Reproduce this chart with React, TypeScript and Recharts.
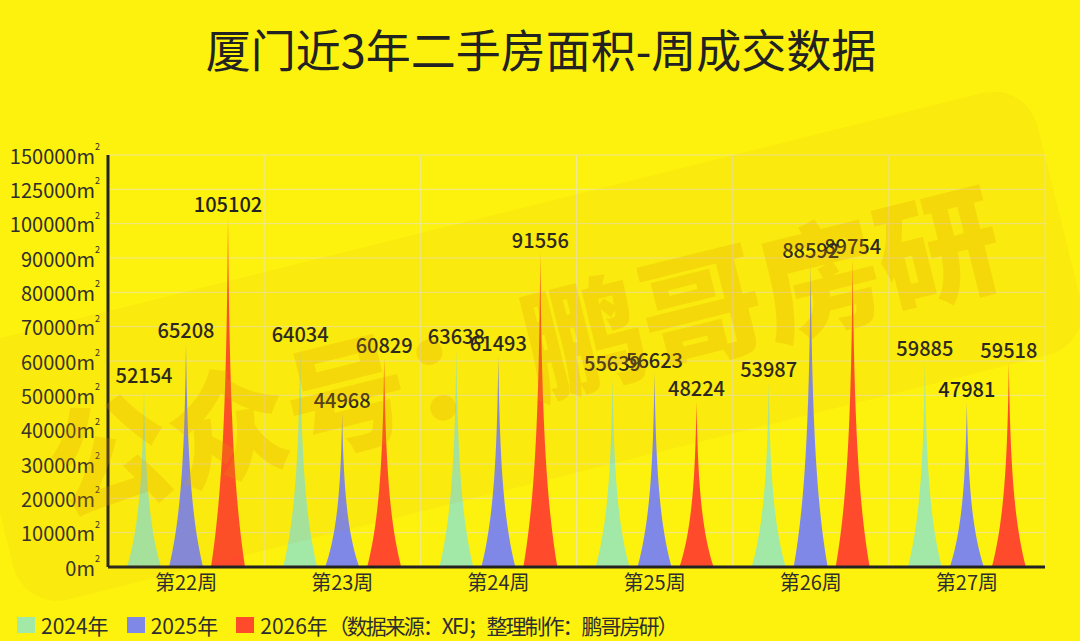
import React from 'react';
import { BarChart, Bar, XAxis, YAxis, CartesianGrid, LabelList } from 'recharts';

const WEEKS = ['第22周', '第23周', '第24周', '第25周', '第26周', '第27周'];
const Y2024 = [52154, 64034, 63638, 55639, 53987, 59885];
const Y2025 = [65208, 44968, 61493, 56623, 88592, 47981];
const Y2026 = [105102, 60829, 91556, 48224, 89754, 59518];
const Y_TICKS = [0, 10000, 20000, 30000, 40000, 50000, 60000, 70000, 80000, 90000, 100000, 125000, 150000];

const SERIES = [
  { key: 'y2024', name: '2024年', color: '#a2e8a6' },
  { key: 'y2025', name: '2025年', color: '#7f88e6' },
  { key: 'y2026', name: '2026年', color: '#ff4a2b' },
];
const SOURCE_NOTE = '（数据来源：XFJ；整理制作：鹏哥房研）';

const data = WEEKS.map((week, i) => ({ week, y2024: Y2024[i], y2025: Y2025[i], y2026: Y2026[i] }));

const FONT = '"Noto Sans CJK SC", "Noto Sans", sans-serif';
const BG = '#fdf10e';

// ticks are spaced evenly, values between two ticks are linear
function makeTickScale(breaks: number[]): any {
  const fracs = breaks.map((_, i) => i / (breaks.length - 1));
  let dom = [breaks[0], breaks[breaks.length - 1]];
  let rng = [0, 1];
  const toFrac = (v: number) => {
    for (let i = 1; i < breaks.length; i++) {
      if (v <= breaks[i] || i === breaks.length - 1) {
        const t = (v - breaks[i - 1]) / (breaks[i] - breaks[i - 1]);
        return fracs[i - 1] + t * (fracs[i] - fracs[i - 1]);
      }
    }
    return 1;
  };
  const scale: any = (v: number) => rng[0] + (rng[1] - rng[0]) * toFrac(v);
  scale.domain = (d?: number[]) => {
    if (d === undefined) return dom.slice();
    dom = d.slice();
    return scale;
  };
  scale.range = (r?: number[]) => {
    if (r === undefined) return rng.slice();
    rng = r.slice();
    return scale;
  };
  scale.copy = () => makeTickScale(breaks).domain(dom).range(rng);
  scale.ticks = () => breaks.slice();
  scale.tickFormat = () => (v: number) => String(v);
  scale.clamp = () => scale;
  scale.nice = () => scale;
  scale.invert = (px: number) => {
    const f = (px - rng[0]) / (rng[1] - rng[0]);
    for (let i = 1; i < fracs.length; i++) {
      if (f <= fracs[i] || i === fracs.length - 1) {
        const t = (f - fracs[i - 1]) / (fracs[i] - fracs[i - 1]);
        return breaks[i - 1] + t * (breaks[i] - breaks[i - 1]);
      }
    }
    return breaks[breaks.length - 1];
  };
  return scale;
}

const yScale = makeTickScale(Y_TICKS);

// sharp peak, width falls off roughly exponentially with height
const Spike = (props: any) => {
  const { x, y, width, height, fill } = props;
  if (!height || height <= 0) return null;
  const base = y + height;
  const cx = x + width / 2;
  const k = 3;
  const n = 30;
  const left: string[] = [];
  const right: string[] = [];
  for (let i = 0; i <= n; i++) {
    const u = i / n;
    const w = ((Math.exp(-k * u) - Math.exp(-k)) / (1 - Math.exp(-k))) * width;
    const py = base - u * height;
    left.push(`${cx - w / 2},${py}`);
    right.unshift(`${cx + w / 2},${py}`);
  }
  const d = `M${left.join(' L')} L${right.join(' L')} Z`;
  return <path d={d} fill={fill} />;
};

const YTick = (props: any) => {
  const { x, y, payload } = props;
  return (
    <text x={x} y={y} textAnchor="end" dominantBaseline="central" fontSize={20} fill="#2e2e2e" fontFamily={FONT}>
      {payload.value}m<tspan fontSize={9} dy={-9}>2</tspan>
    </text>
  );
};

export default function App() {
  return (
    <div style={{ position: 'absolute', left: 0, top: 0, width: 1080, height: 641, background: BG, overflow: 'hidden', fontFamily: FONT }}>
      <div style={{ position: 'absolute', left: 0, top: 19, width: 1082, textAlign: 'center', fontSize: 45, color: '#222', lineHeight: '60px' }}>
        厦门近3年二手房面积-周成交数据
      </div>
      <BarChart
        width={1080}
        height={641}
        data={data}
        margin={{ top: 155, right: 35, left: 0, bottom: 44 }}
        barSize={34}
        barGap={8}
        style={{ position: 'absolute', left: 0, top: 0 }}
      >
        <CartesianGrid
          stroke="#efe894"
          strokeWidth={1}
          verticalCoordinatesGenerator={({ offset }: any) =>
            WEEKS.map((_, i) => offset.left + ((i + 1) * offset.width) / WEEKS.length)
          }
        />
        <XAxis
          dataKey="week"
          height={30}
          tickLine={false}
          tickSize={4}
          tickMargin={5}
          axisLine={{ stroke: '#222', strokeWidth: 3 }}
          tick={{ fontSize: 20, fill: '#2e2e2e', fontFamily: FONT }}
        />
        <YAxis
          type="number"
          width={108}
          domain={[0, 150000]}
          ticks={Y_TICKS}
          scale={yScale}
          interval={0}
          tickLine={false}
          tickSize={6}
          tickMargin={2}
          axisLine={{ stroke: '#222', strokeWidth: 3 }}
          tick={<YTick />}
        />
        {SERIES.map((s) => (
          <Bar key={s.key} dataKey={s.key} name={s.name} fill={s.color} shape={<Spike />} isAnimationActive={false}>
            <LabelList dataKey={s.key} position="top" offset={5} fill="#222" fontSize={20} fontWeight={500} fontFamily={FONT} />
          </Bar>
        ))}
      </BarChart>
      <svg width={1080} height={641} style={{ position: 'absolute', left: 0, top: 0, pointerEvents: 'none' }}>
        <g transform="rotate(-14 522 345)">
          <rect x={-25} y={212} width={1100} height={270} rx={45} fill="#d98a00" fillOpacity={0.07} />
          <text x={522} y={345} textAnchor="middle" dominantBaseline="central" fontSize={122} fontWeight={900} fill="#e39a00" fillOpacity={0.22} fontFamily={FONT}>
            公众号：鹏哥房研
          </text>
        </g>
      </svg>
      <div style={{ position: 'absolute', left: 0, top: 611, height: 28, display: 'flex', alignItems: 'center', fontSize: 21, color: '#2e2e2e', whiteSpace: 'nowrap' }}>
        {SERIES.map((s, i) => (
          <span key={s.key} style={{ display: 'flex', alignItems: 'center', marginLeft: i === 0 ? 17 : 18 }}>
            <span style={{ display: 'inline-block', width: 18, height: 16, background: s.color, marginRight: 6 }} />
            {s.name}
            {i === SERIES.length - 1 ? <span style={{ letterSpacing: -2 }}>{SOURCE_NOTE}</span> : null}
          </span>
        ))}
      </div>
    </div>
  );
}
